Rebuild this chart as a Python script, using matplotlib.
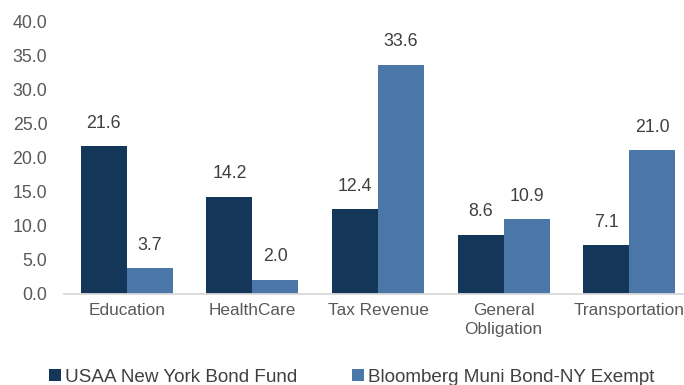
import matplotlib
matplotlib.use("Agg")
import matplotlib.pyplot as plt
from matplotlib.patches import Patch
import numpy as np

categories = ["Education", "HealthCare", "Tax Revenue", "General\nObligation", "Transportation"]
fund_values = [21.6, 14.2, 12.4, 8.6, 7.1]
index_values = [3.7, 2.0, 33.6, 10.9, 21.0]
series_names = ["USAA New York Bond Fund", "Bloomberg Muni Bond-NY Exempt"]
y_ticks = [0, 5, 10, 15, 20, 25, 30, 35, 40]

dark = "#143659"
light = "#4a76a8"

plt.rcParams["font.family"] = ["Liberation Sans", "DejaVu Sans"]

W, H = 684, 385
fig = plt.figure(figsize=(W / 100, H / 100), dpi=100)
# plot area runs slightly past the right edge of the canvas
ax = fig.add_axes([64 / W, (H - 293.5) / H, 628 / W, 272.5 / H])

x = np.arange(len(categories))
bw = 0.366
b1 = ax.bar(x - bw / 2, fund_values, bw, color=dark, edgecolor="none")
b2 = ax.bar(x + bw / 2, index_values, bw, color=light, edgecolor="none")

for bars, vals in ((b1, fund_values), (b2, index_values)):
    for rect, v in zip(bars, vals):
        ax.annotate(f"{v:.1f}", (rect.get_x() + rect.get_width() / 2, v),
                    xytext=(0, 16.5), textcoords="offset points",
                    ha="center", va="center", fontsize=12.8, color="#404040")

ax.set_xlim(-0.5, len(categories) - 0.5)
ax.set_ylim(0, 40)
ax.set_yticks(y_ticks)
ax.set_yticklabels([f"{t:.1f}" for t in y_ticks])
ax.set_xticks(x)
ax.set_xticklabels(categories, linespacing=1.3)
ax.tick_params(axis="both", length=0, labelsize=12.8, labelcolor="#595959")
ax.tick_params(axis="x", labelsize=12.4, pad=7)
ax.tick_params(axis="y", pad=12)

for s in ("top", "right", "left"):
    ax.spines[s].set_visible(False)
ax.spines["bottom"].set_color("#d9d9d9")
ax.spines["bottom"].set_linewidth(1.3)

handles = [Patch(facecolor=dark), Patch(facecolor=light)]
fig.legend(handles, series_names, loc="center left",
           bbox_to_anchor=(49 / W, (H - 377) / H), ncol=2, frameon=False,
           fontsize=13.6, labelcolor="#404040", handlelength=0.65, handleheight=0.65,
           handletextpad=0.2, columnspacing=2.9, borderpad=0, borderaxespad=0)

fig.savefig("out.png", dpi=100)
